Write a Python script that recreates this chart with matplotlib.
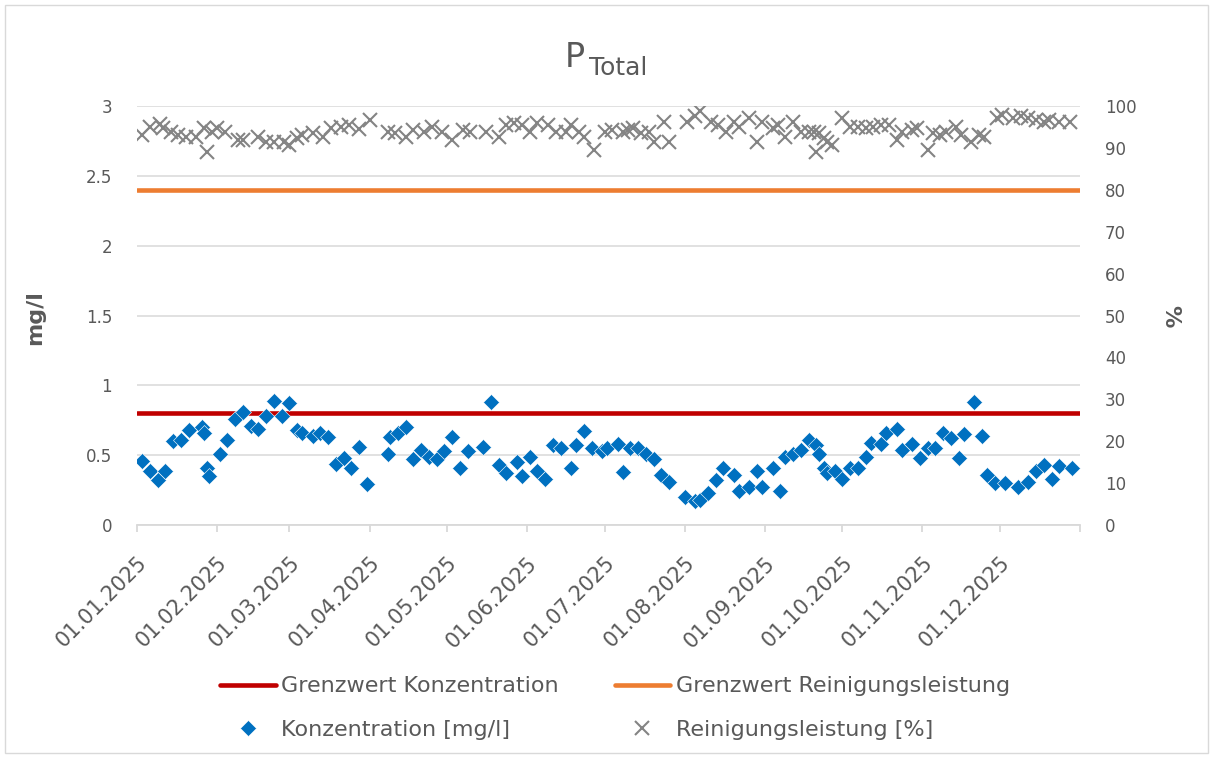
import numpy as np
import matplotlib.pyplot as plt

plt.rcParams['font.family'] = ['DejaVu Sans']
TXT = '#595959'
GRID = '#d9d9d9'

start = np.datetime64('2025-01-01')

# Konzentration [mg/l] -- Tage seit 01.01.2025 und Messwert
conc_days = [2, 5, 8, 11, 14, 17, 20, 25, 26, 27, 28, 32, 35, 38, 41, 44, 47, 50, 53, 56,
             59, 62, 64, 68, 71, 74, 77, 80, 83, 86, 89,
             97, 98, 101, 104, 107, 110, 113, 116, 119, 122, 125, 128, 134, 137, 140, 143,
             147, 149, 152, 155, 158, 161, 164, 168, 170, 173, 176, 180, 182, 186, 188,
             191, 194, 197, 200, 203, 206, 212, 216, 218, 221, 224, 227, 231, 233, 237, 240,
             242, 246, 249, 251, 254, 257, 260, 263, 264, 266, 267, 270, 273, 276, 279, 282, 284,
             288, 290, 294, 296, 300, 303, 306, 309, 312, 315, 318, 320, 324, 327, 329, 332,
             336, 341, 345, 348, 351, 354, 357, 362]
conc_vals = [0.46, 0.39, 0.32, 0.39, 0.60, 0.61, 0.68, 0.70, 0.66, 0.41, 0.35, 0.51, 0.61, 0.76,
             0.81, 0.71, 0.69, 0.78, 0.89, 0.78, 0.87, 0.68, 0.66, 0.64, 0.66, 0.63, 0.44, 0.48,
             0.41, 0.56, 0.29,
             0.51, 0.63, 0.66, 0.70, 0.47, 0.54, 0.49, 0.47, 0.53, 0.63, 0.41, 0.53, 0.56, 0.88,
             0.43, 0.37, 0.45, 0.35, 0.49, 0.39, 0.33, 0.57, 0.55, 0.41, 0.57, 0.67, 0.55, 0.53,
             0.55, 0.58, 0.38,
             0.55, 0.55, 0.51, 0.47, 0.36, 0.31, 0.20, 0.17, 0.18, 0.23, 0.32, 0.41, 0.36, 0.24,
             0.27, 0.39, 0.27, 0.41, 0.24, 0.49, 0.51, 0.54, 0.61, 0.57, 0.51, 0.41, 0.37, 0.39,
             0.33, 0.41, 0.41, 0.49, 0.59,
             0.58, 0.66, 0.69, 0.54, 0.58, 0.48, 0.55, 0.55, 0.66, 0.62, 0.48, 0.65, 0.88, 0.64,
             0.36, 0.30, 0.30, 0.27, 0.31, 0.39, 0.43, 0.33, 0.42, 0.41]

# Reinigungsleistung [%]
eff_days = [2, 5, 9, 10, 13, 16, 19, 23, 26, 27, 29, 31, 34, 39, 41, 47, 50, 53, 57, 59,
            62, 64, 68, 72, 75, 79, 82, 86, 90,
            97, 100, 104, 107, 111, 114, 118, 122, 126, 129, 135, 140, 143, 146, 149, 152,
            155, 159, 162, 166, 168, 171, 173, 177, 181, 184, 188,
            190, 192, 195, 198, 200, 204, 206, 213, 216, 218, 222, 225, 228, 231, 233, 237,
            240, 242, 246, 248, 251, 254, 257, 260, 262, 263, 264, 266, 267, 269, 273, 276,
            279, 282, 285, 288, 291, 294, 296, 300, 302, 306, 308, 311, 313, 317, 319, 323,
            326, 328, 333, 335, 339, 342, 345, 348, 351, 353, 357, 361]
eff_vals = [93.1, 95.1, 95.7, 94.7, 93.9, 93.1, 92.7, 92.7, 94.7, 89.1, 93.7, 94.7, 93.9, 91.9,
            91.9, 92.7, 91.5, 91.5, 91.5, 90.7, 92.3, 93.1, 93.5, 92.7, 94.7, 95.1, 95.5, 94.5,
            96.7,
            93.9, 93.5, 92.7, 94.3, 93.9, 95.1, 93.9, 91.9, 94.3, 93.9, 93.9, 92.7, 95.5, 95.9,
            95.5, 93.9, 95.9, 95.5, 93.9, 93.9, 95.5, 93.9, 92.7, 89.5, 93.9, 94.3, 93.9,
            94.3, 94.7, 93.5, 93.9, 91.5, 96.3, 91.5, 96.3, 97.5, 98.7, 96.3, 95.5, 93.9, 96.3,
            95.1, 97.1, 91.5, 96.3, 94.7, 95.5, 92.7, 96.3, 93.9, 93.9, 93.9, 89.1, 93.5, 92.3,
            91.5, 90.7, 97.1, 95.1, 95.1, 94.7, 95.1, 95.5, 95.5, 91.9, 93.9, 94.3, 94.7, 89.5,
            93.5, 93.1, 93.9, 95.1, 93.1, 91.5, 93.1, 92.7, 97.1, 97.9, 97.1, 97.5, 97.1, 96.7,
            96.3, 96.7, 96.3, 96.3]

limit_conc = 0.8
limit_eff = 80

tick_dates = ['2025-01-01', '2025-02-01', '2025-03-01', '2025-04-01', '2025-05-01', '2025-06-01',
              '2025-07-01', '2025-08-01', '2025-09-01', '2025-10-01', '2025-11-01', '2025-12-01',
              '2026-01-01']
tick_labels = ['01.01.2025', '01.02.2025', '01.03.2025', '01.04.2025', '01.05.2025', '01.06.2025',
               '01.07.2025', '01.08.2025', '01.09.2025', '01.10.2025', '01.11.2025', '01.12.2025', '']

conc_dates = start + np.array(conc_days).astype('timedelta64[D]')
eff_dates = start + np.array(eff_days).astype('timedelta64[D]')
ticks = np.array(tick_dates, dtype='datetime64[D]')

W, H = 1213, 758
fig = plt.figure(figsize=(W / 100, H / 100), dpi=100)
ax = fig.add_axes([137 / W, 1 - 525 / H, (1080 - 137) / W, (525 - 106) / H])
ax2 = ax.twinx()

# Grenzwerte
l_red = ax.axhline(limit_conc, color='#C00000', lw=3.3, solid_capstyle='round', zorder=2,
                   label='Grenzwert Konzentration')
l_orange = ax2.axhline(limit_eff, color='#ED7D31', lw=3.3, solid_capstyle='round', zorder=2,
                       label='Grenzwert Reinigungsleistung')

# Messwerte
p_blue, = ax.plot(conc_dates, conc_vals, ls='none', marker='D', ms=7.8, color='#0070C0',
                  mec='white', mew=0.4, zorder=3, label='Konzentration [mg/l]')
p_gray, = ax2.plot(eff_dates, eff_vals, ls='none', marker='x', ms=10, mew=1.5, color='#848484',
                   zorder=3, label='Reinigungsleistung [%]')

ax.set_xlim(ticks[0], ticks[-1])
ax.set_ylim(0, 3)
ax2.set_ylim(0, 100)

ax.set_yticks(np.arange(0, 3.01, 0.5))
ax.set_yticklabels([f'{v:g}' for v in np.arange(0, 3.01, 0.5)])
ax2.set_yticks(np.arange(0, 101, 10))

ax.set_xticks(ticks)
ax.set_xticklabels(tick_labels, rotation=45, ha='right', va='top', rotation_mode='anchor')

ax.grid(axis='y', color=GRID, lw=1.1)
ax.set_axisbelow(True)
for a in (ax, ax2):
    for s in ('top', 'left', 'right'):
        a.spines[s].set_visible(False)
    a.spines['bottom'].set_color(GRID)
    a.spines['bottom'].set_linewidth(1.3)
ax2.spines['bottom'].set_visible(False)

ax.tick_params(axis='x', colors=GRID, labelcolor=TXT, labelsize=15, length=5, width=1.3, pad=15)
ax.tick_params(axis='y', length=0, labelcolor=TXT, labelsize=12, pad=18)
ax2.tick_params(axis='y', length=0, labelcolor=TXT, labelsize=12, pad=18)

fig.text(35 / W, 1 - 318 / H, 'mg/l', rotation=90, ha='center', va='center',
         fontsize=16, fontweight='bold', color=TXT)
fig.text(1170 / W, 1 - 316 / H, '%', rotation=270, ha='center', va='center',
         fontsize=16, fontweight='bold', color=TXT)

# Titel P_Total
fig.text(585 / W, 1 - 67 / H, 'P', ha='right', va='baseline', fontsize=24, color=TXT)
fig.text(589 / W, 1 - 75 / H, 'Total', ha='left', va='baseline', fontsize=18, color=TXT)

leg = fig.legend(handles=[l_red, p_blue, l_orange, p_gray], ncol=2, loc='center',
                 bbox_to_anchor=(615 / W, 1 - 708 / H), frameon=False, fontsize=16,
                 handlelength=2.5, handletextpad=0.25, columnspacing=2.5, labelspacing=1.05)
for t in leg.get_texts():
    t.set_color(TXT)

# Rahmen um das Diagramm
fig.add_artist(plt.Rectangle((0.004, 0.006), 0.992, 0.988, transform=fig.transFigure,
                             fill=False, edgecolor=GRID, lw=1))

fig.savefig('out.png', dpi=100)
